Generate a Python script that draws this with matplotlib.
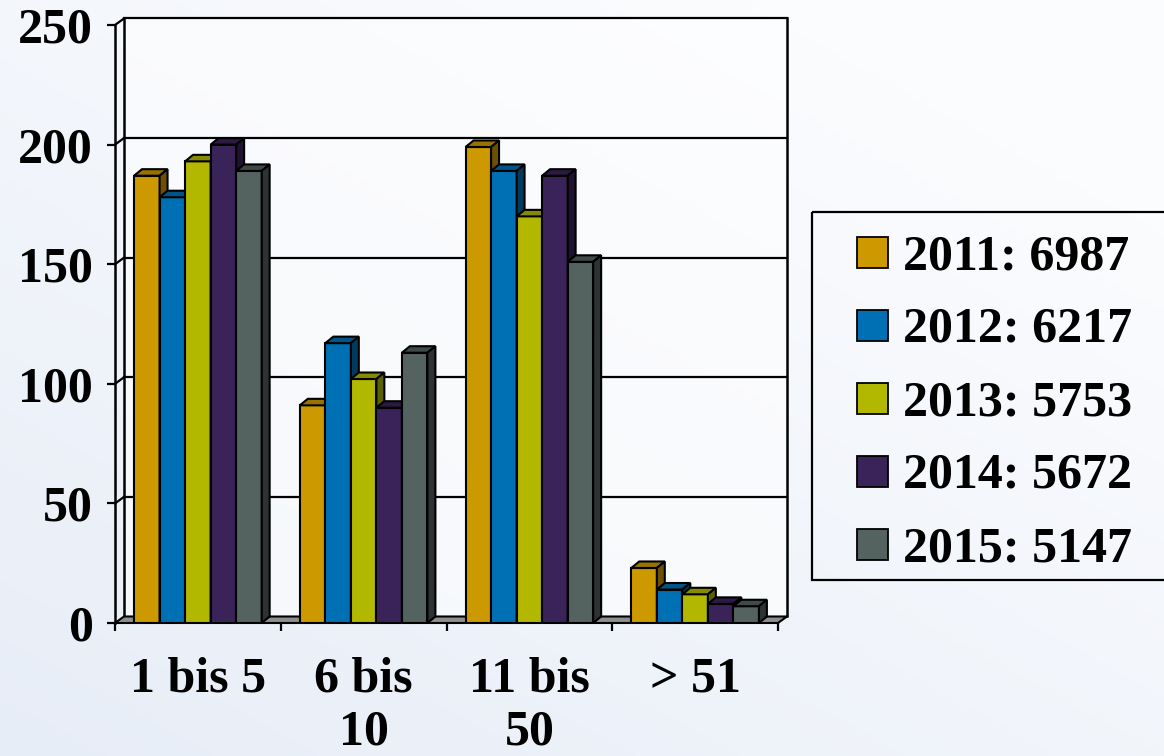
import numpy as np
import matplotlib.pyplot as plt
import matplotlib.colors as mcolors
import matplotlib.transforms as mtransforms
from matplotlib.patches import Polygon, Rectangle

# ---- data -------------------------------------------------------------
categories = ["1 bis 5", "6 bis\n10", "11 bis\n50", "> 51"]
years = ["2011", "2012", "2013", "2014", "2015"]
totals = [6987, 6217, 5753, 5672, 5147]
v2011 = [187, 91, 199, 23]
v2012 = [178, 117, 189, 14]
v2013 = [193, 102, 170, 12]
v2014 = [200, 90, 187, 8]
v2015 = [189, 113, 151, 7]
yticks = [0, 50, 100, 150, 200, 250]

series = [v2011, v2012, v2013, v2014, v2015]
colors = ["#CC9900", "#0070B4", "#B2B800", "#3A2359", "#556360"]

FONT = "Liberation Serif"
FS = 36

W_PX, H_PX = 1164, 756
fig = plt.figure(figsize=(W_PX / 100, H_PX / 100), dpi=100)

# soft diagonal background gradient (white top-right, pale blue bottom-left)
bg = fig.add_axes([0, 0, 1, 1], zorder=-5)
gx, gy = np.meshgrid(np.linspace(0, 1, 300), np.linspace(0, 1, 200))
t = np.clip(0.55 * gx + 0.65 * (1 - gy), 0, 1)
c0 = np.array(mcolors.to_rgb("#e7edf7"))
c1 = np.array(mcolors.to_rgb("#fbfcfe"))
img = c0[None, None, :] * (1 - t[..., None]) + c1[None, None, :] * t[..., None]
bg.imshow(img, aspect="auto", extent=[0, 1, 0, 1], origin="upper")
bg.axis("off")

# plot area
left, right = 115 / W_PX, 778 / W_PX
bottom, top = 1 - 623 / H_PX, 1 - 25 / H_PX
ax = fig.add_axes([left, bottom, right - left, top - bottom])
ax.set_facecolor("none")
ax.set_xlim(-0.5, 3.5)
ax.set_ylim(0, 250)

# depth of the walls / bars in data units
DX, DY = 0.0543, 2.72
BDX, BDY = 0.048, 2.72
x0w, x1w = -0.5, 3.5

# back wall
ax.add_patch(Polygon([(x0w + DX, DY), (x1w + DX, DY), (x1w + DX, 250 + DY), (x0w + DX, 250 + DY)],
                     closed=True, facecolor="white", alpha=0.55, edgecolor="none", zorder=0, clip_on=False))
for v in yticks[1:]:
    ax.plot([x0w + DX, x1w + DX], [v + DY, v + DY], color="black", lw=1.6, zorder=1, clip_on=False)
    ax.plot([x0w, x0w + DX], [v, v + DY], color="black", lw=1.6, zorder=1, clip_on=False)
ax.plot([x0w + DX, x0w + DX], [DY, 250 + DY], color="black", lw=1.8, zorder=1, clip_on=False)
ax.plot([x1w + DX, x1w + DX], [DY, 250 + DY], color="black", lw=1.8, zorder=1, clip_on=False)

# floor
ax.add_patch(Polygon([(x0w, 0), (x1w, 0), (x1w + DX, DY), (x0w + DX, DY)], closed=True,
                     facecolor="#8e8e8e", edgecolor="black", lw=1.5, zorder=2, clip_on=False))

# bars with top and side faces
w = 0.154
x = np.arange(len(categories))
z = 3
for j, (vals, col) in enumerate(zip(series, colors)):
    rgb = np.array(mcolors.to_rgb(col))
    top_c, side_c = rgb * 0.75, rgb * 0.52
    for i, v in enumerate(vals):
        xl = x[i] + (j - 2) * w - w / 2
        xr = xl + w
        ax.bar(xl, v, width=w, align="edge", color=col, edgecolor="black", lw=1.5, zorder=z)
        ax.add_patch(Polygon([(xl, v), (xr, v), (xr + BDX, v + BDY), (xl + BDX, v + BDY)], closed=True,
                             facecolor=top_c, edgecolor="black", lw=1.5, zorder=z, clip_on=False))
        ax.add_patch(Polygon([(xr, 0), (xr, v), (xr + BDX, v + BDY), (xr + BDX, BDY)], closed=True,
                             facecolor=side_c, edgecolor="black", lw=1.5, zorder=z, clip_on=False))
    z += 1

# axes, ticks and labels
for s in ["top", "right", "bottom"]:
    ax.spines[s].set_visible(False)
ax.spines["left"].set_linewidth(1.8)
ax.spines["left"].set_zorder(2)
ax.set_yticks(yticks)
ax.set_yticklabels([str(v) for v in yticks], fontfamily=FONT, fontweight="bold", fontsize=FS)
ax.tick_params(axis="y", direction="out", length=6, width=1.6, pad=10)

ax.set_xticks([-0.5, 0.5, 1.5, 2.5, 3.5])
ax.set_xticklabels([])
ax.tick_params(axis="x", which="major", direction="out", length=6, width=1.6)
ax.set_xticks(x, minor=True)
ax.set_xticklabels(categories, minor=True, fontfamily=FONT, fontweight="bold", fontsize=FS,
                   linespacing=1.2)
ax.tick_params(axis="x", which="minor", length=0, pad=24)

# legend box
px = mtransforms.Affine2D().scale(1 / W_PX, -1 / H_PX).translate(0, 1) + fig.transFigure
fig.patches.append(Rectangle((812, 212), 370, 368, transform=px, facecolor="none",
                             edgecolor="black", lw=1.6))
for k, (yr, tot, col) in enumerate(zip(years, totals, colors)):
    cy = 252 + 73 * k
    fig.patches.append(Rectangle((857, cy - 15.5), 31, 31, transform=px, facecolor=col,
                                 edgecolor="black", lw=1.3))
    fig.text(903, cy + 17, f"{yr}: {tot}", transform=px, fontfamily=FONT, fontweight="bold",
             fontsize=FS, va="baseline", ha="left")

fig.savefig("out.png", dpi=100)
